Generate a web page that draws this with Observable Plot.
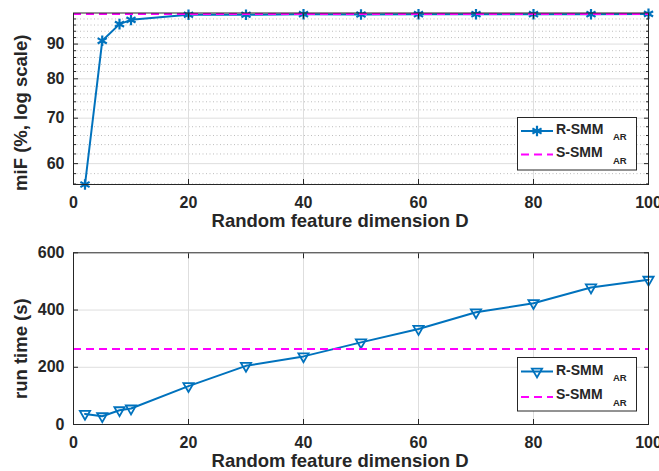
<!DOCTYPE html>
<html><head><meta charset="utf-8">
<script src="https://cdn.jsdelivr.net/npm/d3@7"></script>
<script src="https://cdn.jsdelivr.net/npm/@observablehq/plot@0.6"></script>
<style>
body{margin:0;background:#fff;font-family:"Liberation Sans",Arial,sans-serif;}
#wrap{position:relative;width:659px;height:471px;overflow:hidden;}
.panel{position:absolute;left:0;}
.legend{position:absolute;}
</style></head>
<body><div id="wrap"></div>
<script>
// ---- data ----
const D = [2, 5, 8, 10, 20, 30, 40, 50, 60, 70, 80, 90, 100];
const miF_R = [55.9, 91.0, 96.3, 97.7, 99.4, 99.4, 99.6, 99.5, 99.6, 99.6, 99.6, 99.6, 99.7];
const miF_S = 99.7;
const time_R = [37, 29, 50, 56, 134, 205, 238, 287, 334, 392, 424, 479, 506];
const time_S = 264;
const xTicks = [0, 20, 40, 60, 80, 100];
const xGrid = [20, 40, 60, 80];
const miFTicks = [60, 70, 80, 90];
const miFMinor = [56, 58, 62, 64, 66, 68, 72, 74, 76, 78, 82, 84, 86, 88, 92, 94, 96, 98];
const timeTicks = [0, 200, 400, 600];
const seriesNames = ["R-SMM", "S-SMM"];
const subscript = "AR";
const xLabel = "Random feature dimension D";
const yLabelTop = "miF (%, log scale)";
const yLabelBottom = "run time (s)";

const BLUE = "#0072BD", MAG = "#FF00FF", INK = "#262626";
const FONT = "'Liberation Sans', Arial, Helvetica, sans-serif";
const wrap = document.getElementById("wrap");

const topData = D.map((d, i) => ({D: d, v: miF_R[i]}));
const botData = D.map((d, i) => ({D: d, v: time_R[i]}));

function commonAxes(yTicks, minor) {
  const m = [
    Plot.axisX(xTicks, {tickSize: -5, tickPadding: 17, label: null, fontSize: 16, fontWeight: "bold", fill: INK, stroke: INK}),
    Plot.axisX(xTicks, {anchor: "top", tickSize: -5, tickFormat: () => "", label: null, stroke: INK}),
    Plot.axisY(yTicks, {tickSize: -5, tickPadding: 14, label: null, fontSize: 16, fontWeight: "bold", fill: INK, stroke: INK, tickFormat: d => String(d)}),
    Plot.axisY(yTicks, {anchor: "right", tickSize: -5, tickFormat: () => "", label: null, stroke: INK})
  ];
  if (minor) {
    m.push(Plot.axisY(minor, {tickSize: -3, tickFormat: () => "", label: null, stroke: INK}));
    m.push(Plot.axisY(minor, {anchor: "right", tickSize: -3, tickFormat: () => "", label: null, stroke: INK}));
  }
  return m;
}

function labels(ylab, ydy) {
  return [
    Plot.text([xLabel], {text: d => d, frameAnchor: "bottom", dx: -21, dy: 42, lineAnchor: "bottom", fontSize: 18.5, fontWeight: "bold", fill: INK}),
    Plot.text([ylab], {text: d => d, frameAnchor: "left", rotate: -90, dx: -52, dy: ydy, lineAnchor: "middle", textAnchor: "middle", fontSize: 18.5, fontWeight: "bold", fill: INK})
  ];
}

const topPlot = Plot.plot({
  width: 659, height: 240,
  marginLeft: 73, marginRight: 11, marginTop: 12.5, marginBottom: 56,
  style: {fontFamily: FONT, background: "white", overflow: "visible"},
  x: {domain: [0, 100]},
  y: {type: "log", domain: [55.9, 100]},
  marks: [
    Plot.gridY(miFMinor, {stroke: "#bdbdbd", strokeOpacity: 1, strokeDasharray: "1,2.5"}),
    Plot.gridY(miFTicks, {stroke: "#dedede", strokeOpacity: 1}),
    Plot.gridX(xGrid, {stroke: "#dedede", strokeOpacity: 1}),
    Plot.line(topData, {x: "D", y: "v", stroke: BLUE, strokeWidth: 2}),
    Plot.dot(topData, {x: "D", y: "v", symbol: "asterisk", r: 5, stroke: BLUE, strokeWidth: 2.2}),
    Plot.ruleY([miF_S], {stroke: MAG, strokeWidth: 2, strokeDasharray: "8,5"}),
    Plot.frame({stroke: INK, strokeWidth: 1}),
    ...commonAxes(miFTicks, miFMinor),
    ...labels(yLabelTop, 14)
  ]
});
topPlot.classList.add("panel");
topPlot.style.top = "0px";
wrap.appendChild(topPlot);

const botPlot = Plot.plot({
  width: 659, height: 231,
  marginLeft: 73, marginRight: 11, marginTop: 12.3, marginBottom: 47,
  style: {fontFamily: FONT, background: "white", overflow: "visible"},
  x: {domain: [0, 100]},
  y: {domain: [0, 600]},
  marks: [
    Plot.gridY([200, 400], {stroke: "#dedede", strokeOpacity: 1}),
    Plot.gridX(xGrid, {stroke: "#dedede", strokeOpacity: 1}),
    Plot.line(botData, {x: "D", y: "v", stroke: BLUE, strokeWidth: 2}),
    Plot.dot(botData, {x: "D", y: "v", symbol: "triangle", rotate: 180, r: 3.8, stroke: BLUE, strokeWidth: 1.8, fill: "none"}),
    Plot.ruleY([time_S], {stroke: MAG, strokeWidth: 2, strokeDasharray: "8,5"}),
    Plot.frame({stroke: INK, strokeWidth: 1}),
    ...commonAxes(timeTicks, null),
    ...labels(yLabelBottom, 10)
  ]
});
botPlot.classList.add("panel");
botPlot.style.top = "240px";
wrap.appendChild(botPlot);

// ---- legends ----
function legend(left, top, h, symbolType, rotate, rows) {
  const w = 119;
  const svg = d3.create("svg").attr("width", w + 2).attr("height", h + 2)
    .style("position", "absolute").style("left", left + "px").style("top", top + "px")
    .style("font-family", FONT);
  svg.append("rect").attr("x", 0.5).attr("y", 0.5).attr("width", w).attr("height", h)
    .attr("fill", "white").attr("stroke", INK).attr("stroke-width", 1);
  rows.forEach((r, i) => {
    const g = svg.append("g");
    g.append("line").attr("x1", 4).attr("x2", 36).attr("y1", r.ly).attr("y2", r.ly)
      .attr("stroke", i === 0 ? BLUE : MAG).attr("stroke-width", 2)
      .attr("stroke-dasharray", i === 0 ? null : "8,5");
    if (i === 0) {
      const size = symbolType === d3.symbolAsterisk ? Math.PI * 25 : Math.PI * 3.8 * 3.8;
      g.append("path").attr("d", d3.symbol(symbolType, size)())
        .attr("transform", `translate(20,${r.ly}) rotate(${rotate})`)
        .attr("fill", "none").attr("stroke", BLUE).attr("stroke-width", symbolType === d3.symbolAsterisk ? 2.2 : 1.8);
    }
    g.append("text").attr("x", 39).attr("y", r.ty).attr("font-size", 14).attr("font-weight", "bold")
      .attr("fill", INK).text(seriesNames[i]);
    g.append("text").attr("x", 96).attr("y", r.sy).attr("font-size", 9.5).attr("font-weight", "bold")
      .attr("fill", INK).text(subscript);
  });
  wrap.appendChild(svg.node());
}
legend(517, 116.5, 52.5, d3.symbolAsterisk, 0, [{ly: 14, ty: 16.5, sy: 23}, {ly: 37.5, ty: 39.5, sy: 46.5}]);
legend(517, 357, 53.5, d3.symbolTriangle, 180, [{ly: 14.5, ty: 18, sy: 24}, {ly: 40, ty: 41.5, sy: 48.5}]);
</script>
</body></html>
